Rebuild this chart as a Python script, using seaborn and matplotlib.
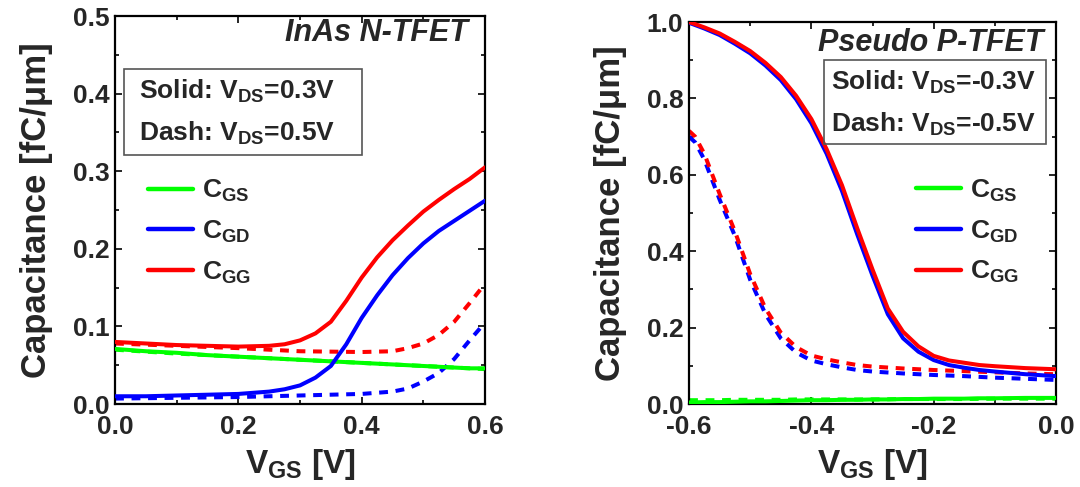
import numpy as np
import pandas as pd
import matplotlib
matplotlib.use("Agg")
import matplotlib.pyplot as plt
from matplotlib.lines import Line2D
from matplotlib.ticker import MultipleLocator, FormatStrFormatter
import seaborn as sns

# ---------------- data: InAs N-TFET ----------------
n_v_solid = [0.0, 0.05, 0.1, 0.15, 0.2, 0.25, 0.275, 0.3, 0.325, 0.35, 0.375, 0.4, 0.425,
             0.45, 0.475, 0.5, 0.525, 0.55, 0.575, 0.6]
n_cgg_solid = [0.080, 0.078, 0.076, 0.075, 0.074, 0.075, 0.077, 0.082, 0.091, 0.106, 0.133,
               0.163, 0.189, 0.211, 0.230, 0.248, 0.263, 0.277, 0.290, 0.305]
n_cgd_solid = [0.010, 0.010, 0.011, 0.012, 0.013, 0.016, 0.019, 0.024, 0.034, 0.049, 0.077,
               0.111, 0.140, 0.166, 0.188, 0.207, 0.223, 0.236, 0.249, 0.262]
n_cgs_solid = [0.071, 0.068, 0.066, 0.063, 0.061, 0.059, 0.058, 0.057, 0.056, 0.055, 0.054,
               0.053, 0.052, 0.051, 0.050, 0.049, 0.048, 0.047, 0.046, 0.046]

n_v_dash = [0.0, 0.1, 0.2, 0.3, 0.4, 0.45, 0.475, 0.5, 0.525, 0.55, 0.575, 0.6]
n_cgg_dash = [0.078, 0.075, 0.072, 0.068, 0.067, 0.068, 0.072, 0.078, 0.089, 0.106, 0.130, 0.155]
n_cgd_dash = [0.007, 0.008, 0.009, 0.011, 0.013, 0.016, 0.020, 0.029, 0.040, 0.058, 0.082, 0.105]
n_cgs_dash = [0.070, 0.065, 0.061, 0.057, 0.053, 0.051, 0.050, 0.049, 0.048, 0.047, 0.046, 0.045]

# ---------------- data: Pseudo P-TFET ----------------
p_v_solid = [-0.6, -0.575, -0.55, -0.525, -0.5, -0.475, -0.45, -0.425, -0.4, -0.375, -0.35,
             -0.325, -0.3, -0.275, -0.25, -0.225, -0.2, -0.175, -0.15, -0.125, -0.1, -0.05, 0.0]
p_cgg_solid = [1.000, 0.986, 0.970, 0.948, 0.924, 0.893, 0.856, 0.807, 0.746, 0.667, 0.573,
               0.460, 0.352, 0.250, 0.189, 0.151, 0.126, 0.114, 0.108, 0.102, 0.099, 0.094, 0.091]
p_cgd_solid = [0.998, 0.983, 0.966, 0.943, 0.918, 0.886, 0.848, 0.798, 0.735, 0.655, 0.558,
               0.444, 0.336, 0.235, 0.172, 0.137, 0.115, 0.102, 0.095, 0.089, 0.085, 0.078, 0.073]
p_cgs_solid = [0.004, 0.005, 0.005, 0.006, 0.007, 0.007, 0.008, 0.009, 0.010, 0.010, 0.011,
               0.011, 0.012, 0.012, 0.013, 0.013, 0.014, 0.014, 0.014, 0.015, 0.015, 0.016, 0.016]

p_v_dash = [-0.6, -0.59, -0.575, -0.55, -0.525, -0.5, -0.475, -0.45, -0.425, -0.4, -0.375,
            -0.35, -0.325, -0.3, -0.25, -0.2, -0.15, -0.1, -0.05, 0.0]
p_cgg_dash = [0.715, 0.700, 0.655, 0.550, 0.452, 0.340, 0.250, 0.187, 0.149, 0.127, 0.117,
              0.109, 0.102, 0.098, 0.093, 0.089, 0.086, 0.083, 0.080, 0.078]
p_cgd_dash = [0.700, 0.685, 0.640, 0.535, 0.440, 0.325, 0.235, 0.172, 0.135, 0.114, 0.104,
              0.096, 0.089, 0.085, 0.080, 0.076, 0.073, 0.069, 0.066, 0.063]
p_cgs_dash = [0.010, 0.010, 0.010, 0.010, 0.011, 0.011, 0.011, 0.011, 0.012, 0.012, 0.012,
              0.012, 0.012, 0.012, 0.013, 0.013, 0.013, 0.014, 0.014, 0.014]

series_names = ["$\\mathregular{C_{GS}}$", "$\\mathregular{C_{GD}}$", "$\\mathregular{C_{GG}}$"]
colors = ["#00ff00", "#0000ff", "#ff0000"]

titles = ["InAs N-TFET", "Pseudo P-TFET"]
box_lines = [["Solid: V$_\\mathregular{DS}$=0.3V", "Dash: V$_\\mathregular{DS}$=0.5V"],
             ["Solid: V$_\\mathregular{DS}$=-0.3V", "Dash: V$_\\mathregular{DS}$=-0.5V"]]

# ---------------- style ----------------
sns.set_style("ticks")
plt.rcParams["font.family"] = ["Liberation Sans", "DejaVu Sans"]
plt.rcParams["font.weight"] = "bold"
plt.rcParams["axes.labelweight"] = "bold"
plt.rcParams["mathtext.default"] = "regular"
plt.rcParams["axes.linewidth"] = 1.6
plt.rcParams["lines.solid_joinstyle"] = "round"
plt.rcParams["lines.dash_joinstyle"] = "round"

fig = plt.figure(figsize=(10.8, 4.87), dpi=100)
axL = fig.add_axes([0.1065, 0.1704, 0.3426, 0.7967])
axR = fig.add_axes([0.6380, 0.1704, 0.3398, 0.7844])

lw = 2.9
dash_pat = (2.2, 1.9)


def draw(ax, vs, ys_solid, vd, ys_dash):
    for y, c in zip(ys_dash, colors):
        df = pd.DataFrame({"V": vd, "C": y})
        sns.lineplot(data=df, x="V", y="C", ax=ax, color=c, lw=lw, legend=False, zorder=2)
        ax.lines[-1].set_dashes(dash_pat)
    for y, c in zip(ys_solid, colors):
        df = pd.DataFrame({"V": vs, "C": y})
        sns.lineplot(data=df, x="V", y="C", ax=ax, color=c, lw=lw, legend=False, zorder=3)


draw(axL, n_v_solid, [n_cgs_solid, n_cgd_solid, n_cgg_solid],
     n_v_dash, [n_cgs_dash, n_cgd_dash, n_cgg_dash])
draw(axR, p_v_solid, [p_cgs_solid, p_cgd_solid, p_cgg_solid],
     p_v_dash, [p_cgs_dash, p_cgd_dash, p_cgg_dash])

axL.set_xlim(0, 0.6)
axL.set_ylim(0, 0.5)
axL.xaxis.set_major_locator(MultipleLocator(0.2))
axL.xaxis.set_minor_locator(MultipleLocator(0.1))
axL.yaxis.set_major_locator(MultipleLocator(0.1))
axL.yaxis.set_minor_locator(MultipleLocator(0.05))

axR.set_xlim(-0.6, 0)
axR.set_ylim(0, 1.0)
axR.xaxis.set_major_locator(MultipleLocator(0.2))
axR.xaxis.set_minor_locator(MultipleLocator(0.1))
axR.yaxis.set_major_locator(MultipleLocator(0.2))
axR.yaxis.set_minor_locator(MultipleLocator(0.1))

leg_anchor = [(0.06, 0.61), (0.59, 0.62)]
title_x = [0.955, 0.965]

for i, ax in enumerate([axL, axR]):
    for s in ax.spines.values():
        s.set_visible(True)
        s.set_linewidth(1.6)
        s.set_color("black")
    ax.tick_params(which="both", direction="in", top=True, right=True, width=1.4,
                   labelsize=19, pad=4)
    ax.tick_params(axis="x", which="both", pad=8)
    ax.tick_params(which="major", length=5)
    ax.tick_params(which="minor", length=3)
    ax.xaxis.set_major_formatter(FormatStrFormatter("%.1f"))
    ax.yaxis.set_major_formatter(FormatStrFormatter("%.1f"))
    for lab in ax.get_xticklabels() + ax.get_yticklabels():
        lab.set_fontweight("bold")
    ax.set_xlabel("V$_\\mathregular{GS}$ [V]", fontsize=24, fontweight="bold", labelpad=6)
    ax.set_ylabel("Capacitance [fC/\u03bcm]", fontsize=25, fontweight="bold", labelpad=14)

    ax.text(title_x[i], 0.955 if i == 0 else 0.945, titles[i], transform=ax.transAxes,
            ha="right", va="center", fontsize=22, fontweight="bold", style="italic")

    handles = [Line2D([0], [0], color=c, lw=3.2) for c in colors]
    leg = ax.legend(handles, series_names, loc="upper left", bbox_to_anchor=leg_anchor[i],
                    frameon=False, fontsize=19, handlelength=1.7, handletextpad=0.35,
                    labelspacing=0.55, borderaxespad=0)
    for t in leg.get_texts():
        t.set_fontweight("bold")


def box(ax, x0, y0, x1, y1, lines, tx, ty1, ty2):
    rect = plt.Rectangle((x0, y0), x1 - x0, y1 - y0, transform=ax.transAxes, fill=False,
                         edgecolor="#555555", lw=1.2, zorder=5)
    ax.add_patch(rect)
    ax.text(tx, ty1, lines[0], transform=ax.transAxes, ha="left", va="center",
            fontsize=19, fontweight="bold", zorder=6)
    ax.text(tx, ty2, lines[1], transform=ax.transAxes, ha="left", va="center",
            fontsize=19, fontweight="bold", zorder=6)


# left box: px x 124-362, y 69-155 ; axes x 115-485, y 16-404
box(axL, (124 - 115) / 370, (404 - 155) / 388, (362 - 115) / 370, (404 - 69) / 388,
    box_lines[0], (139 - 115) / 370, (404 - 91) / 388, (404 - 133) / 388)
# right box: px x 824-1046, y 60-144 ; axes x 689-1056, y 22-404
box(axR, (824 - 689) / 367, (404 - 144) / 382, (1046 - 689) / 367, (404 - 60) / 382,
    box_lines[1], (831 - 689) / 367, (404 - 82) / 382, (404 - 124) / 382)

fig.savefig("out.png", dpi=100)
